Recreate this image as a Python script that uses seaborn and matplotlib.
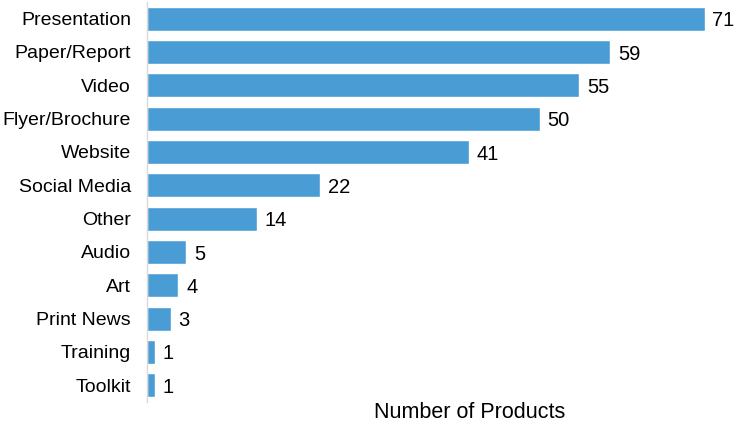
import matplotlib
matplotlib.use("Agg")
import matplotlib.pyplot as plt
import seaborn as sns
import pandas as pd

categories = ["Presentation", "Paper/Report", "Video", "Flyer/Brochure", "Website",
              "Social Media", "Other", "Audio", "Art", "Print News", "Training", "Toolkit"]
counts = [71, 59, 55, 50, 41, 22, 14, 5, 4, 3, 1, 1]

df = pd.DataFrame({"category": categories, "count": counts})

sns.set_style("white")
plt.rcParams["font.family"] = ["Liberation Sans", "DejaVu Sans"]

fig = plt.figure(figsize=(7.36, 4.26), dpi=100)
ax = fig.add_axes([147 / 736, 1 - 402 / 426, 589 / 736, 400 / 426])

sns.barplot(data=df, x="count", y="category", color="#4a9cd5", saturation=1,
            width=0.72, ax=ax)

for i, v in enumerate(counts):
    ax.text(v + 1.0, i, str(v), va="center_baseline", ha="left", fontsize=14.5,
            color="black")

ax.set_xlim(0, 75)
ax.set_ylim(11.5, -0.5)
ax.set_xticks([])
ax.set_ylabel("")
ax.set_xlabel("")
ax.tick_params(axis="y", length=0, labelsize=14, pad=11.5, colors="black")
for s in ["top", "right", "bottom"]:
    ax.spines[s].set_visible(False)
ax.spines["left"].set_color("#d9d9d9")
ax.spines["left"].set_linewidth(1)

fig.text(470 / 736, 1 - 413 / 426, "Number of Products", ha="center", va="center",
         fontsize=15.5, color="black")

fig.savefig("out.png", dpi=100)
